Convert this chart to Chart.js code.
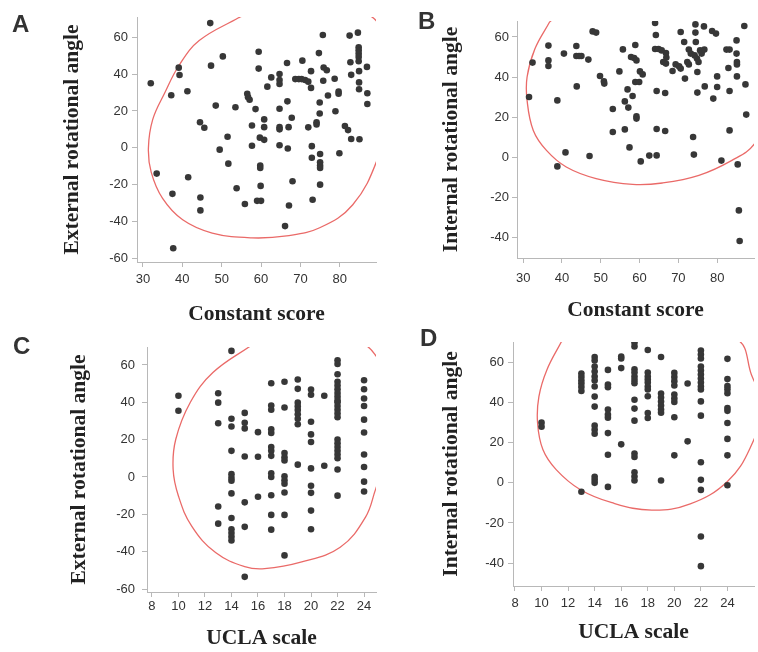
<!DOCTYPE html>
<html>
<head>
<meta charset="utf-8">
<script src="https://cdn.jsdelivr.net/npm/chart.js@4/dist/chart.umd.min.js"></script>
<style>
  html, body { margin: 0; padding: 0; background: #fff; }
  #wrap { position: relative; width: 758px; height: 652px; overflow: hidden; }
  .panel { position: absolute; }
  .letter { position: absolute; font: bold 24px "Liberation Sans", Arial, sans-serif; line-height: 24px; color: #333; }
</style>
</head>
<body>
<div id="wrap">
  <div class="panel" style="left:0;top:0;width:380px;height:330px"><canvas id="chartA"></canvas></div>
  <div class="panel" style="left:380px;top:0;width:378px;height:330px"><canvas id="chartB"></canvas></div>
  <div class="panel" style="left:0;top:330px;width:380px;height:322px"><canvas id="chartC"></canvas></div>
  <div class="panel" style="left:380px;top:330px;width:378px;height:322px"><canvas id="chartD"></canvas></div>
  <div class="letter" style="left:12px;top:12px">A</div>
  <div class="letter" style="left:418px;top:9px">B</div>
  <div class="letter" style="left:13px;top:334px">C</div>
  <div class="letter" style="left:420px;top:326px">D</div>
</div>
<script>
/* ---- data ---- */

// A: Constant score vs external rotation  [score, angle]
const constVsExternal = [
  [32,35],[33.5,-14],[37.2,28.5],[39.1,43.5],[39.3,39.5],[37.5,-25],[37.7,-54.5],[41.3,30.7],[41.5,-16],
  [47.1,67.7],[47.3,44.6],[50.3,49.6],[44.5,13.9],[45.6,10.9],[48.5,22.9],[44.6,-27],[44.6,-34],[49.5,-1],
  [51.5,6],[51.7,-8.6],[53.5,22],[53.8,-22],[55.9,-30.5],[56.5,29.3],[56.7,27.5],[57.1,26.1],[59.4,52.1],
  [59.4,43],[58.6,21],[57.7,12.1],[57.7,1.1],[59.7,5.5],[60.8,4.3],[60.8,15.4],[60.8,11.2],[59.8,-9.6],
  [59.8,-11],[59.9,-20.7],[59,-28.8],[60,-28.8],[61.6,33.2],[62.6,38.2],[64.7,40],[64.7,36.8],[64.7,34.6],
  [64.7,21.2],[64.7,11.2],[64.7,10],[64.7,1.4],[66.6,46],[66.7,25.2],[67,11.2],[66.8,-0.4],[67.8,16.3],
  [68,-18.2],[67.1,-31.3],[66.1,-42.5],[68.7,37.3],[69.6,37.3],[70.3,37.3],[71.2,36.8],[72,35.9],[70.5,47.3],
  [72.7,41.6],[72.7,32.5],[72,11.1],[72.9,0.9],[72.9,-5.4],[73.1,-28.2],[74.1,12.7],[74.1,13.9],[74.7,51.4],
  [74.9,24.6],[74.9,18.6],[75,-3.4],[75,-7.9],[75,-9.6],[75,-11],[75,-20],[75.7,61.2],[75.9,43.6],[76.7,42.1],
  [75.8,36.4],[77,28.4],[78.7,37.5],[78.9,19.8],[79.7,30.5],[79.7,29.3],[79.9,-3],[81.3,11.8],[82.1,9.6],
  [82.5,60.9],[82.7,46.4],[82.9,39.6],[82.9,4.8],[84.6,62.5],[84.8,54.6],[84.8,52.9],[84.8,51.1],[84.8,49.3],
  [84.8,47],[84.9,41.6],[84.9,35.5],[84.9,31.8],[85,4.6],[86.9,43.9],[87,29.6],[87,23.8]
];

// B: Constant score vs internal rotation  [score, angle]
const constVsInternal = [
  [31.5,30],[32.4,47.2],[36.5,55.7],[36.5,48.3],[36.5,45.5],[38.8,28.3],[38.8,-4.7],[40.5,51.7],[40.9,2.3],
  [43.7,55.5],[43.7,50.5],[44.4,50.5],[45,50.5],[43.8,35.3],[46.8,48.7],[47.1,0.5],[47.9,62.8],[48.8,62.2],
  [49.8,40.5],[50.8,37.8],[50.9,36.7],[53.1,24],[53.1,12.5],[54.8,42.8],[55.7,53.8],[56.2,27.8],[56.2,13.8],
  [56.9,33.8],[57.1,24.7],[57.4,4.8],[58.2,30.5],[58.9,56],[57.8,50],[58.6,49.5],[59.2,48.3],[58.9,37.5],
  [59.9,37.5],[59.2,19.2],[59.2,20.3],[60.1,42.8],[60.8,41.3],[60.3,-2.2],[62.5,0.7],[64,67],[64.2,61],
  [64,54],[64.9,54],[65.7,53.3],[66.8,52],[66.9,49.7],[66.1,47.5],[66.8,46.7],[64.4,33],[66.6,32],[64.4,14],
  [66.6,13],[64.4,0.8],[68.5,43],[69.3,46.3],[70.2,45.3],[70.6,44.2],[70.6,62.5],[71.5,57.5],[71.7,39.2],
  [72.7,53.7],[73.2,51.7],[72.3,47.5],[72.7,46.3],[74.4,66.3],[74.4,62.2],[74.5,57.5],[74.2,50.8],[74.8,49.2],
  [75.2,47.5],[75.6,53.3],[76,51.7],[74.9,42.5],[74.9,32.2],[73.8,10],[74,1.2],[76.6,65.3],[76.8,35.3],
  [76.7,53.7],[78.7,63],[79.7,61.7],[79,29.2],[80,40.3],[80,35],[81.1,-1.8],[82.4,53.7],[83.2,53.7],
  [82.9,44.5],[83.2,33],[83.2,13.3],[85,58.3],[85,51.7],[85.1,47.5],[85.1,46.3],[85.1,40.3],[85.3,-3.7],
  [85.6,-26.7],[85.8,-42],[87,65.5],[87.3,36.3],[87.5,21.2]
];

// C, D: UCLA scale columns and the angles stacked on each
const uclaScores = [10, 13, 14, 15, 16, 17, 18, 19, 20, 21, 22, 24];
const uclaExternal = [
  [43.5,35.5],
  [44.8,39.8,28.8,-15.8,-25],
  [67.5,31.2,27,14,1.5,-0.5,-2,-8.8,-22,-28,-30,-32,-34],
  [34.3,29,26,11,-13.6,-26.7,-53.5],
  [24,10.8,-10.6],
  [50.2,38.3,36,25.5,23.6,16,14,11.3,2,0,-9.8,-20.3,-28.2],
  [51,37.2,12.8,10.6,8.8,0.4,-1.8,-3.6,-8.3,-20.3,-42],
  [52.2,47.2,39.8,37.8,35.8,33.6,31.2,28.2,6.6],
  [46.8,44,29.6,22.8,18.7,4.6,-4.7,-8.5,-18,-28],
  [43.5,6],
  [62.5,60.5,55,51,49,47,45,43,41,40,38,36,34,32,20,18,16,14,12,10,4,-10],
  [51.8,47,42,38,30.7,23.8,12,5.3,-2.5,-7.8]
];
const uclaInternal = [
  [30,28],
  [54.5,52.8,51,49.5,47.8,45.8,-4.4],
  [62.7,61,58,55.5,53,51,48,43,38,28.5,26.5,24.5,3,1.5,0],
  [56.3,49,47.7,36.5,34,32.5,24.8,14,-2],
  [63,62,57.2,19.2],
  [70,68,56.6,55,53,51.3,49.7,41.4,37,31,14.6,12.9,5.3,3.2,1.2],
  [66.2,55,53,51.5,50,48,46.5,43.2,34.8,32.3],
  [62.7,44.5,42.5,40.5,38.5,36.5,35,1.2],
  [54.8,52.7,50.7,48.5,44,42,40.3,32.7,13.7],
  [49.5,20.7],
  [66,64,62,58,56,54,52,50,48,46.5,40.6,33.5,10.3,1.5,-3.5,-26.7,-41.5],
  [61.8,51.7,48.3,46.7,44.7,37.3,35.9,29.8,21.9,13.7,-1.2]
];

// red density ellipses (parts outside the frame get clipped)
const ellipseA = [[54.4,70.7],[44.3,58.2],[39.2,44.8],[35.5,29.6],[32.5,15.4],[31.4,0],[32.1,-13.2],[35,-27.5],
  [40.1,-39.1],[47.6,-46.3],[57.7,-48.9],[66.5,-47.8],[74.9,-43.4],[83.3,-30.9],[89.6,-6],[92.5,20],[92.5,48],
  [89.7,67.5],[86.5,73],[75,81],[62,78],[54.4,70.7]];
const ellipseB = [[36.8,67.5],[33,54],[31,40],[31,28.3],[32.6,13.3],[36,3.3],[41.1,-5],[48.8,-10.8],[58.2,-13.7],
  [65.9,-13],[75.3,-9.2],[83.8,-1.7],[89.6,6.5],[94,25],[94,55],[85,80],[62,90],[44,79],[36.8,67.5]];
const ellipseC = [[15.5,70.5],[12.6,55.9],[10.9,40],[9.8,20.2],[9.6,4.1],[10,-10.2],[11,-26.3],[12.8,-40.5],
  [15,-48],[16.5,-49.1],[19.3,-45.5],[22.2,-37.6],[24.1,-21.6],[24.9,-6],[26.3,20],[26.3,48],[24.8,65.8],
  [24,71],[21,78],[18,77],[15.5,70.5]];
const ellipseD = [[11.5,70.4],[10.4,56.3],[9.8,43],[9.7,29.8],[10.1,16.6],[11.1,6.6],[12.9,-3.3],[15.3,-9.9],
  [18.3,-13.6],[21.2,-10.5],[24,0.7],[25.7,17.3],[26.6,38],[25.8,54],[24.7,71.5],[18,81],[11.5,70.4]];

const scoreTicks = [30, 40, 50, 60, 70, 80];
const uclaTicks = [8, 10, 12, 14, 16, 18, 20, 22, 24];
const extTicks = [-60, -40, -20, 0, 20, 40, 60];
const intTicks = [-40, -20, 0, 20, 40, 60];

/* ---- helpers ---- */
const DOT = '#373737';
const RED = '#ea6a68';
const AXIS = '#b8b8b8';
const tickFont = { family: '"Liberation Sans", Arial, sans-serif', size: 13 };
const titleFont = { family: '"Liberation Serif", "Times New Roman", serif', size: 21.5, weight: 'bold' };

const toXY = (pairs) => pairs.map(([x, y]) => ({ x, y }));
const columns = (xs, ys) => xs.flatMap((x, i) => ys[i].map(y => ({ x, y })));

function panel(id, c) {
  return new Chart(document.getElementById(id), {
    type: 'scatter',
    data: {
      datasets: [
        { data: c.points, pointRadius: 3.3, pointBackgroundColor: DOT, pointBorderWidth: 0, order: 1 },
        { data: toXY(c.ellipse), showLine: true, pointRadius: 0, borderColor: RED, borderWidth: 1.3,
          tension: 0.4, fill: false, order: 2 }
      ]
    },
    options: {
      responsive: true,
      maintainAspectRatio: false,
      animation: false,
      layout: { padding: { left: 0, top: c.top, right: c.right, bottom: 0 } },
      elements: { line: { capBezierPoints: false } },
      plugins: { legend: { display: false }, tooltip: { enabled: false } },
      scales: {
        x: {
          type: 'linear', min: c.x[0], max: c.x[1],
          afterBuildTicks: (s) => { s.ticks = c.xTicks.map(v => ({ value: v })); },
          afterFit: (s) => { s.height = c.xH; },
          grid: { drawOnChartArea: false, tickLength: 5, color: AXIS },
          border: { color: AXIS },
          ticks: { font: tickFont, color: '#333', padding: c.xPad, maxRotation: 0 },
          title: { display: true, text: c.xTitle, font: titleFont, color: '#222', padding: { top: 0, bottom: c.xTitlePad } }
        },
        y: {
          type: 'linear', min: c.y[0], max: c.y[1],
          afterBuildTicks: (s) => { s.ticks = c.yTicks.map(v => ({ value: v })); },
          afterFit: (s) => { s.width = c.yW; },
          grid: { drawOnChartArea: false, tickLength: 5, color: AXIS },
          border: { color: AXIS },
          ticks: { font: tickFont, color: '#333', padding: c.yPad },
          title: { display: true, text: c.yTitle, font: titleFont, color: '#222', padding: { top: c.yTitlePad, bottom: 0 } }
        }
      }
    }
  });
}

/* ---- build ---- */
panel('chartA', {
  points: toXY(constVsExternal), ellipse: ellipseA,
  x: [28.5, 89.2], y: [-62, 71], xTicks: scoreTicks, yTicks: extTicks,
  top: 17, right: 2, yW: 137, xH: 68, xPad: 5, yPad: 4, xTitlePad: 3, yTitlePad: 60,
  xTitle: 'Constant score', yTitle: 'External rotational angle'
});
panel('chartB', {
  points: toXY(constVsInternal), ellipse: ellipseB,
  x: [28.4, 89.5], y: [-50.5, 68], xTicks: scoreTicks, yTicks: intTicks,
  top: 21, right: 3, yW: 137, xH: 72, xPad: 8, yPad: 3, xTitlePad: 7, yTitlePad: 59,
  xTitle: 'Constant score', yTitle: 'Internal rotational angle'
});
panel('chartC', {
  points: columns(uclaScores, uclaExternal), ellipse: ellipseC,
  x: [7.63, 24.9], y: [-61.6, 69.6], xTicks: uclaTicks, yTicks: extTicks,
  top: 17, right: 0, yW: 147, xH: 60, xPad: 2, yPad: 7, xTitlePad: 1, yTitlePad: 67,
  xTitle: 'UCLA scale', yTitle: 'External rotational angle'
});
panel('chartD', {
  points: columns(uclaScores, uclaInternal), ellipse: ellipseD,
  x: [7.85, 26.0], y: [-51.4, 70.2], xTicks: uclaTicks, yTicks: intTicks,
  top: 12, right: 2, yW: 133, xH: 66, xPad: 5, yPad: 4, xTitlePad: 7, yTitlePad: 59,
  xTitle: 'UCLA scale', yTitle: 'Internal rotational angle'
});
</script>
</body>
</html>
